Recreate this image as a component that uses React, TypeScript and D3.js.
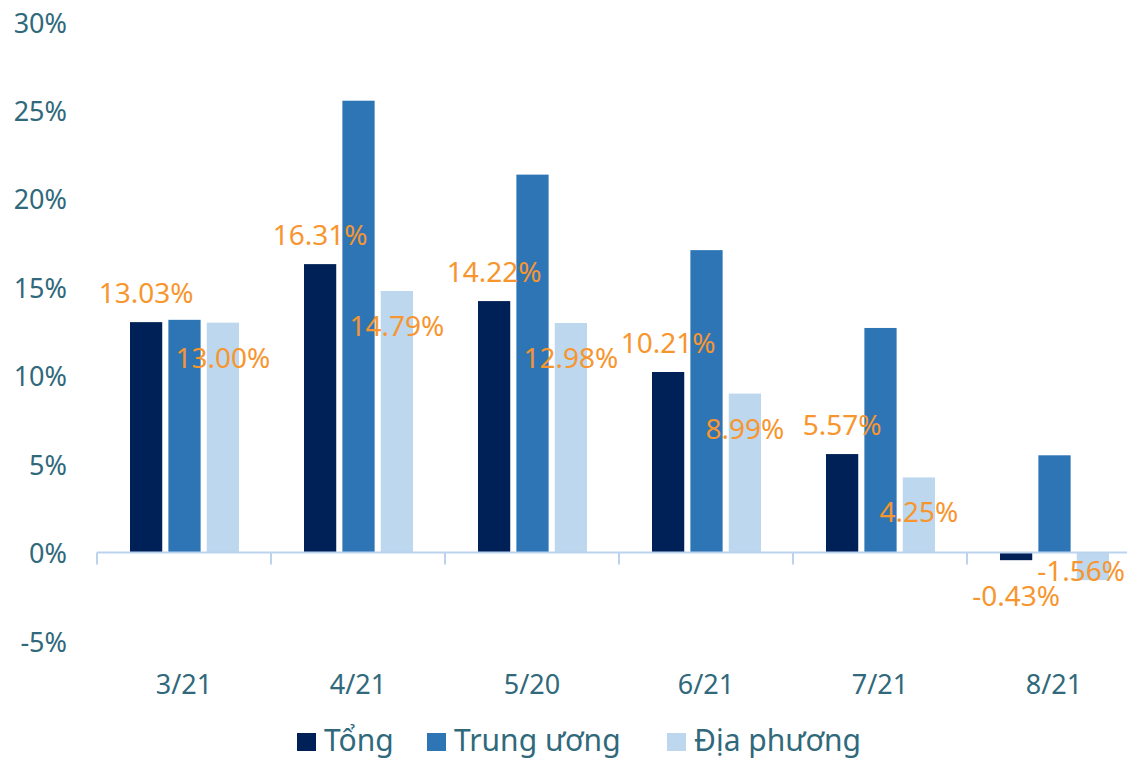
import React from 'react';
import * as d3 from 'd3';

const categories = ['3/21', '4/21', '5/20', '6/21', '7/21', '8/21'];
const seriesNames = ['Tổng', 'Trung ương', 'Địa phương'];
const tong = [13.03, 16.31, 14.22, 10.21, 5.57, -0.43];
const trungUong = [13.16, 25.55, 21.37, 17.1, 12.7, 5.5];
const diaPhuong = [13.0, 14.79, 12.98, 8.99, 4.25, -1.56];
const yTicks = [-5, 0, 5, 10, 15, 20, 25, 30];

const colors = ['#002157', '#2E75B6', '#BDD7EE'];
const textColor = '#30697B';
const labelColor = '#F7962F';
const font = '"Noto Sans", sans-serif';

export default function App() {
  const width = 1127;
  const height = 760;

  const x = d3.scaleBand<string>().domain(categories).range([97, 1141]);
  const xs = d3.scaleBand<string>().domain(seriesNames).range([33, 142]).paddingInner(0.16);
  const y = d3.scaleLinear().domain([-5, 30]).range([641, 22]);
  const y0 = y(0);

  const values = [tong, trungUong, diaPhuong];

  // data labels: Tổng above its bar, Địa phương inside the end of its bar
  const labels: { x: number; y: number; text: string }[] = [];
  categories.forEach((c, i) => {
    const t = tong[i];
    labels.push({
      x: x(c)! + xs('Tổng')! + xs.bandwidth() / 2,
      y: t >= 0 ? y(t) - 30 : y(t) + 35,
      text: t.toFixed(2) + '%',
    });
    const d = diaPhuong[i];
    labels.push({
      x: x(c)! + xs('Địa phương')! + xs.bandwidth() / 2,
      y: d >= 0 ? y(d) + 34 : y(d) - 10,
      text: d.toFixed(2) + '%',
    });
  });

  const ticksX = categories.map(c => x(c)!).concat([x.range()[1]]);

  const legend = [
    { name: seriesNames[0], x: 297 },
    { name: seriesNames[1], x: 427 },
    { name: seriesNames[2], x: 667 },
  ];

  return (
    <svg
      width={width}
      height={height}
      style={{ position: 'absolute', left: 0, top: 0, background: '#fff' }}
      fontFamily={font}
    >
      {yTicks.map(t => (
        <text
          key={t}
          x={67}
          y={y(t)}
          textAnchor="end"
          dominantBaseline="central"
          fontSize={27}
          fill={textColor}
        >
          {t + '%'}
        </text>
      ))}

      {categories.map((c, i) =>
        values.map((vals, s) => {
          const v = vals[i];
          return (
            <rect
              key={c + s}
              x={x(c)! + xs(seriesNames[s])!}
              y={Math.min(y(v), y0)}
              width={xs.bandwidth()}
              height={Math.abs(y(v) - y0)}
              fill={colors[s]}
            />
          );
        })
      )}

      <line x1={x.range()[0]} x2={x.range()[1]} y1={y0} y2={y0} stroke="#BCD3EE" strokeWidth={2} />
      {ticksX.map((tx, i) => (
        <line key={i} x1={tx} x2={tx} y1={y0} y2={y0 + 12} stroke="#BCD3EE" strokeWidth={2} />
      ))}

      {categories.map(c => (
        <text
          key={c}
          x={x(c)! + x.bandwidth() / 2}
          y={683}
          textAnchor="middle"
          dominantBaseline="central"
          fontSize={27}
          fill={textColor}
        >
          {c}
        </text>
      ))}

      {labels.map((l, i) => {
        // keep the last label inside the picture
        const anchorEnd = l.x + 48 > width;
        return (
          <text
            key={i}
            x={anchorEnd ? width - 2 : l.x}
            y={l.y}
            textAnchor={anchorEnd ? 'end' : 'middle'}
            dominantBaseline="central"
            fontSize={28}
            fill={labelColor}
          >
            {l.text}
          </text>
        );
      })}

      {legend.map((l, i) => (
        <g key={l.name} transform={`translate(${l.x},733)`}>
          <rect width={19} height={18} fill={colors[i]} />
          <text x={27} y={18} fontSize={30} fill={textColor}>
            {l.name}
          </text>
        </g>
      ))}
    </svg>
  );
}
